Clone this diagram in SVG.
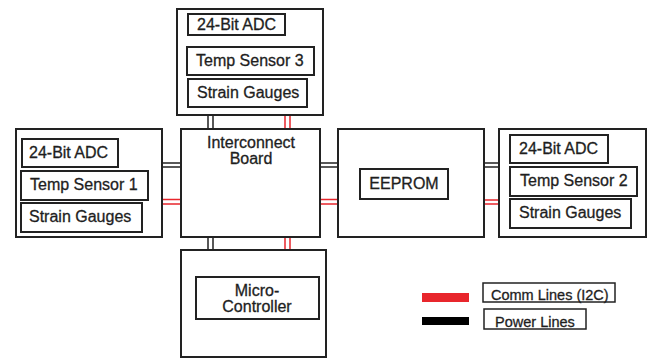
<svg xmlns="http://www.w3.org/2000/svg" width="648" height="359" viewBox="0 0 648 359">
<style>
.box{fill:#fff;stroke:#222;stroke-width:2}
.ibox{fill:#fff;stroke:#222;stroke-width:2}
.t{font-family:"Liberation Sans",Arial,sans-serif;font-size:16px;fill:#1e1e1e;stroke:#1e1e1e;stroke-width:0.3}
.c{text-anchor:middle}
.lt{font-family:"Liberation Sans",Arial,sans-serif;font-size:14.5px;fill:#1e1e1e;stroke:#1e1e1e;stroke-width:0.3}
.pw{stroke:#222;stroke-width:1.5;fill:none}
.cm{stroke:#e8262c;stroke-width:1.5;fill:none}
</style>
<rect width="648" height="359" fill="#fff"/>
<g id="connectors">
  <path class="pw" d="M208,115V129M213,115V129"/>
  <path class="cm" d="M285,115V129M290,115V129"/>
  <path class="pw" d="M162,163H181M162,167H181"/>
  <path class="cm" d="M162,199.5H181M162,204H181"/>
  <path class="pw" d="M320,163H338M320,167H338"/>
  <path class="cm" d="M320,199.5H338M320,204H338"/>
  <path class="pw" d="M484,163H499M484,167H499"/>
  <path class="cm" d="M484,200H499M484,204H499"/>
  <path class="pw" d="M208,237V250M213,237V250"/>
  <path class="cm" d="M285,237V250M290,237V250"/>
</g>
<g id="sensor3">
  <rect class="box" x="177" y="9" width="146" height="106"/>
  <rect class="ibox" x="188" y="14" width="97" height="21"/>
  <text class="t" x="197" y="30">24-Bit ADC</text>
  <rect class="ibox" x="187" y="47" width="127" height="28"/>
  <text class="t" x="196" y="66">Temp Sensor 3</text>
  <rect class="ibox" x="188" y="79" width="119" height="28"/>
  <text class="t" x="197" y="98">Strain Gauges</text>
</g>
<g id="sensor1">
  <rect class="box" x="16" y="129" width="146" height="108"/>
  <rect class="ibox" x="22" y="139" width="96" height="28"/>
  <text class="t" x="29" y="158">24-Bit ADC</text>
  <rect class="ibox" x="21" y="171" width="127" height="29"/>
  <text class="t" x="30" y="190">Temp Sensor 1</text>
  <rect class="ibox" x="21" y="203" width="121" height="29"/>
  <text class="t" x="29" y="222">Strain Gauges</text>
</g>
<g id="interconnect">
  <rect class="box" x="181" y="129" width="139" height="108"/>
  <text class="t c" x="251" y="148">Interconnect</text>
  <text class="t c" x="251" y="164">Board</text>
</g>
<g id="eeprom">
  <rect class="box" x="338" y="129" width="146" height="108"/>
  <rect class="ibox" x="360" y="169" width="88" height="30"/>
  <text class="t c" x="404" y="189">EEPROM</text>
</g>
<g id="sensor2">
  <rect class="box" x="499" y="129" width="147" height="108"/>
  <rect class="ibox" x="510" y="135" width="98" height="28"/>
  <text class="t" x="519" y="154">24-Bit ADC</text>
  <rect class="ibox" x="510" y="167" width="127" height="29"/>
  <text class="t" x="520" y="186">Temp Sensor 2</text>
  <rect class="ibox" x="510" y="199" width="121" height="29"/>
  <text class="t" x="519" y="218">Strain Gauges</text>
</g>
<g id="microcontroller">
  <rect class="box" x="181" y="250" width="145" height="107"/>
  <rect class="ibox" x="196" y="277" width="123" height="42"/>
  <text class="t c" x="257" y="296">Micro-</text>
  <text class="t c" x="257" y="312">Controller</text>
</g>
<g id="legend">
  <rect x="422" y="293" width="47" height="9" fill="#e8262c"/>
  <rect x="422" y="317" width="47" height="8" fill="#000"/>
  <rect x="483" y="283" width="132" height="19" fill="#fff" stroke="#222" stroke-width="1.5"/>
  <text class="lt" x="491" y="300">Comm Lines (I2C)</text>
  <rect x="484" y="309" width="102" height="20" fill="#fff" stroke="#222" stroke-width="1.5"/>
  <text class="lt" x="495" y="327">Power Lines</text>
</g>
</svg>
